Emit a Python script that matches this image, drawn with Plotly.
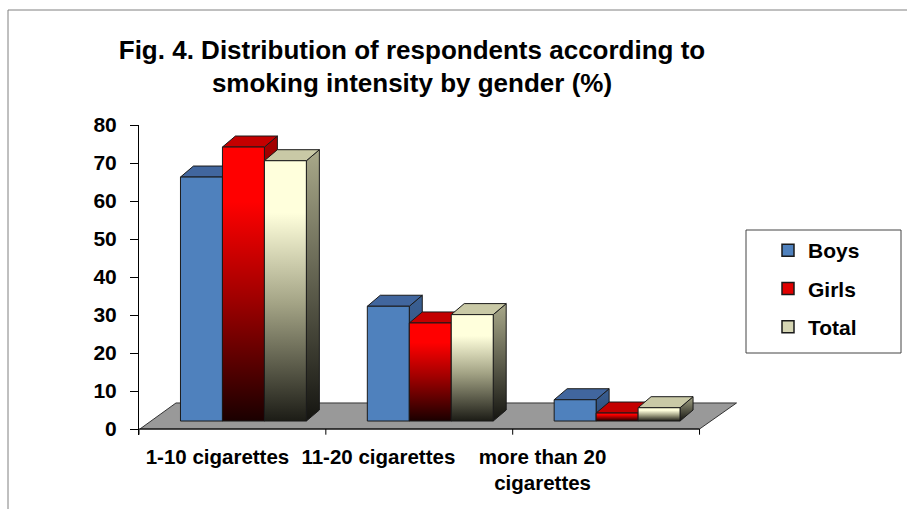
import plotly.graph_objects as go

# ---------------- data ----------------
categories = ["1-10 cigarettes", "11-20 cigarettes", "more than 20<br>cigarettes"]
series_names = ["Boys", "Girls", "Total"]
boys = [64.2, 30.2, 5.6]
girls = [72.1, 25.8, 2.1]
total = [68.5, 28.0, 3.5]
y_tick_values = [0, 10, 20, 30, 40, 50, 60, 70, 80]
title_text = "Fig. 4. Distribution of respondents according to<br>smoking intensity by gender (%)"

# ---------------- style ----------------
FONT = "Liberation Sans, Arial, sans-serif"
BAR_W = 0.2246          # width of one bar (x units)
GROUP_LEFT = -0.278     # left edge of first bar relative to category centre
DEPTH_X = 0.0695        # 3-D depth offset (x units)
DEPTH_Y = 2.9           # 3-D depth offset (y units)
BASE = 2.1              # front face base above the axis zero (floor depth)
FLOOR_BACK = 6.85
FLOOR_SHIFT = 0.193
X_RANGE = [-0.5, 2.7166]
Y_RANGE = [-1.58, 80]
LABEL_POS = [-0.080, 0.781, 1.660]
OUTLINE = "#1a1a1a"

styles = {
    "Boys": dict(front=("#4F81BD", "#4F81BD", "#4F81BD"),
                 top="#41669E", side=("#2E4C78", "#3A5F92"),
                 legend="#4F81BD"),
    "Girls": dict(front=("#1a0000", "#a00000", "#FF0000"),
                  top="#C40000", side=("#120000", "#A80000"),
                  legend="#E00000"),
    "Total": dict(front=("#1c1c16", "#a3a385", "#FFFFDC"),
                  top="#C9C9A6", side=("#141410", "#A9A98A"),
                  legend="#D6D6B4"),
}

series_values = {"Boys": boys, "Girls": girls, "Total": total}

fig = go.Figure()

# legend entries (real legend, no drawn data)
for name in series_names:
    fig.add_trace(go.Bar(
        x=[None], y=[None], name=name, legendgroup=name,
        marker=dict(color=styles[name]["legend"], line=dict(color=OUTLINE, width=1.5)),
    ))


def grad(cols):
    if len(cols) == 2:
        return dict(type="vertical", colorscale=[[0, cols[0]], [1, cols[1]]])
    return dict(type="vertical",
                colorscale=[[0, cols[0]], [0.45, cols[1]], [0.8, cols[2]], [1, cols[2]]])


def face(xs, ys, name, fill=None, gradient=None):
    kw = dict(x=xs + [xs[0]], y=ys + [ys[0]], mode="lines", fill="toself",
              line=dict(color=OUTLINE, width=1), hoverinfo="skip",
              showlegend=False, legendgroup=name, name=name)
    if gradient is not None:
        kw["fillgradient"] = gradient
    else:
        kw["fillcolor"] = fill
    fig.add_trace(go.Scatter(**kw))


for ci in range(len(categories)):
    for si, name in enumerate(series_names):
        v = series_values[name][ci]
        L = ci + GROUP_LEFT + si * BAR_W
        R = L + BAR_W
        B = BASE
        T = BASE + v
        st = styles[name]
        # side face
        face([R, R + DEPTH_X, R + DEPTH_X, R], [B, B + DEPTH_Y, T + DEPTH_Y, T],
             name, gradient=grad(st["side"]))
        # top face
        face([L, R, R + DEPTH_X, L + DEPTH_X], [T, T, T + DEPTH_Y, T + DEPTH_Y],
             name, fill=st["top"])
        # front face
        if name == "Boys":
            face([L, R, R, L], [B, B, T, T], name, fill=st["front"][0])
        else:
            face([L, R, R, L], [B, B, T, T], name, gradient=grad(st["front"]))

shapes = []
# floor
fx0, fx1 = X_RANGE[0] + 0.005, 2.5
shapes.append(dict(
    type="path", xref="x", yref="y", layer="below",
    path=f"M {fx0},0 L {fx0 + FLOOR_SHIFT},{FLOOR_BACK} L {fx1 + FLOOR_SHIFT + 0.005},{FLOOR_BACK} L {fx1},0 Z",
    fillcolor="#999999", line=dict(color="#333333", width=1)))
# x axis line and category boundary ticks
shapes.append(dict(type="line", xref="x", yref="y", x0=-0.5, x1=2.5, y0=0, y1=0,
                   line=dict(color="#000000", width=1), layer="above"))
for b in [-0.5, 0.5, 1.5, 2.5]:
    shapes.append(dict(type="line", xref="x", yref="y", x0=b, x1=b, y0=0, y1=-1.5,
                       line=dict(color="#000000", width=1), layer="above"))

# paper helpers (plot area: x 139..740 px, y 125..435 px)
def px_x(p):
    return (p - 139) / 601.0

def px_y(p):
    return (435 - p) / 310.0

# legend box
shapes.append(dict(type="rect", xref="paper", yref="paper",
                   x0=px_x(746), x1=px_x(901), y0=px_y(353), y1=px_y(230),
                   line=dict(color="#444444", width=1), fillcolor="rgba(0,0,0,0)"))
# chart frame
shapes.append(dict(type="rect", xref="paper", yref="paper",
                   x0=px_x(8), x1=px_x(915), y0=px_y(520), y1=px_y(10),
                   line=dict(color="#808080", width=1), fillcolor="rgba(0,0,0,0)"))

fig.update_layout(
    width=907, height=509,
    margin=dict(l=139, r=167, t=125, b=74),
    paper_bgcolor="white", plot_bgcolor="white",
    font=dict(family=FONT, color="#000000"),
    title=dict(text=title_text, x=412 / 907, xanchor="center", xref="container",
               y=1 - 58.5 / 509, yanchor="middle", yref="container",
               font=dict(size=26, family=FONT, weight="bold", color="#000000")),
    shapes=shapes,
    showlegend=True,
    legend=dict(x=px_x(768), xanchor="left", y=px_y(230), yanchor="top",
                bgcolor="rgba(0,0,0,0)", borderwidth=0, tracegroupgap=8,
                font=dict(size=21, family=FONT, weight="bold", color="#000000"),
                itemwidth=30),
    xaxis=dict(range=X_RANGE, showgrid=False, zeroline=False, showline=False,
               tickmode="array", tickvals=LABEL_POS, ticktext=categories, ticks="",
               ticklabelstandoff=7,
               tickfont=dict(size=20.5, family=FONT, weight="bold", color="#000000"),
               fixedrange=True),
    yaxis=dict(range=Y_RANGE, showgrid=False, zeroline=False, showline=True,
               linecolor="#000000", linewidth=1, mirror=False,
               tickmode="array", tickvals=y_tick_values, ticks="outside", ticklen=8,
               tickcolor="#000000", ticklabelstandoff=9,
               tickfont=dict(size=21, family=FONT, weight="bold", color="#000000"),
               fixedrange=True),
    bargap=0,
)

fig.write_html("out.html")
